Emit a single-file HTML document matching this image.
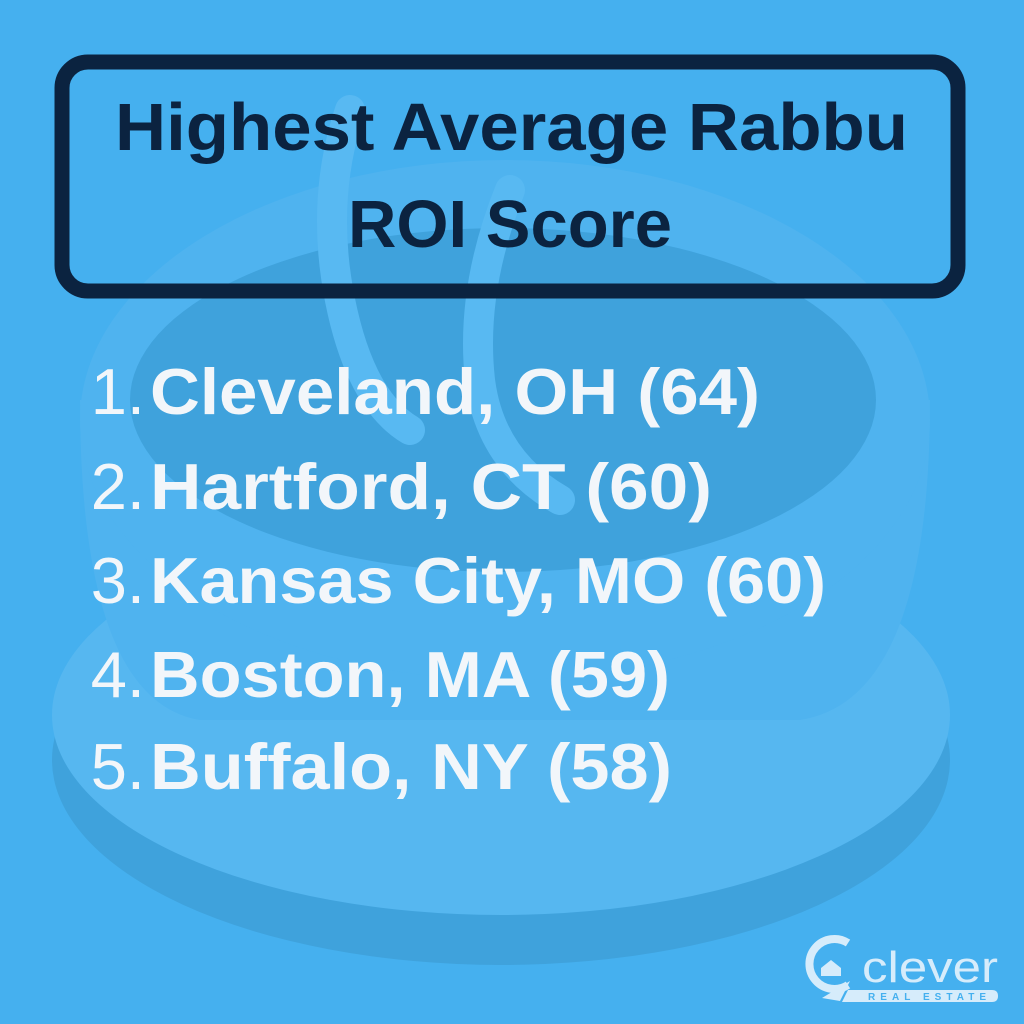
<!DOCTYPE html>
<html><head><meta charset="utf-8"><style>
html,body{margin:0;padding:0;background:#45b0ef;}
svg{display:block}
</style></head><body>
<svg width="1024" height="1024" viewBox="0 0 1024 1024" xmlns="http://www.w3.org/2000/svg">
<rect width="1024" height="1024" fill="#45b0ef"/>
<ellipse cx="501" cy="760" rx="449" ry="205" fill="#3fa2dc"/>
<ellipse cx="501" cy="715" rx="449" ry="200" fill="#56b7f0"/>
<path d="M80 400 Q80 700 200 720 L800 720 Q930 700 930 400 Z" fill="#4fb3ef"/>
<ellipse cx="505" cy="420" rx="425" ry="260" fill="#4fb3ef"/>
<ellipse cx="503" cy="400" rx="373" ry="172" fill="#3fa2dc"/>
<path d="M350 110 Q320 200 340 300 Q360 400 410 430" fill="none" stroke="#58b9f2" stroke-width="30" stroke-linecap="round"/>
<path d="M510 190 Q470 290 480 380 Q490 460 560 500" fill="none" stroke="#58b9f2" stroke-width="30" stroke-linecap="round"/>
<rect x="62" y="62" width="896" height="229" rx="26" fill="none" stroke="#0b2340" stroke-width="15"/>
<g font-family="Liberation Sans, sans-serif" font-weight="bold">
<text x="115" y="150" font-size="67" fill="#0b2340" textLength="793" lengthAdjust="spacingAndGlyphs">Highest Average Rabbu</text>
<text x="348" y="247" font-size="67" fill="#0b2340" textLength="324" lengthAdjust="spacingAndGlyphs">ROI Score</text>
<g fill="#f2f6fa" font-size="65">
<text x="145" y="414" text-anchor="end" font-weight="normal">1.</text>
<text x="150" y="414" textLength="610" lengthAdjust="spacingAndGlyphs">Cleveland, OH (64)</text>
<text x="145" y="509" text-anchor="end" font-weight="normal">2.</text>
<text x="150" y="509" textLength="562" lengthAdjust="spacingAndGlyphs">Hartford, CT (60)</text>
<text x="145" y="603" text-anchor="end" font-weight="normal">3.</text>
<text x="150" y="603" textLength="676" lengthAdjust="spacingAndGlyphs">Kansas City, MO (60)</text>
<text x="145" y="697" text-anchor="end" font-weight="normal">4.</text>
<text x="150" y="697" textLength="520" lengthAdjust="spacingAndGlyphs">Boston, MA (59)</text>
<text x="145" y="789" text-anchor="end" font-weight="normal">5.</text>
<text x="150" y="789" textLength="522" lengthAdjust="spacingAndGlyphs">Buffalo, NY (58)</text>
</g>
</g>
<g fill="#d6ecfb" stroke="none">
<path d="M848 943 A25 25 0 1 0 848 985" fill="none" stroke="#d6ecfb" stroke-width="8"/>
<path d="M822 998 L850 981 L840 1001 Z"/>
<path d="M821 968 L831 960 L841 968 L841 976 L821 976 Z"/>
<path d="M848 990 L992 990 Q998 990 998 996 Q998 1002 992 1002 L842 1002 Z"/>
</g>
<text x="862" y="982" font-family="Liberation Sans, sans-serif" font-size="44" fill="#d6ecfb" textLength="136" lengthAdjust="spacingAndGlyphs">clever</text>
<text x="868" y="1000" font-family="Liberation Sans, sans-serif" font-weight="bold" font-size="10" fill="#45b0ef" textLength="118" lengthAdjust="spacing">REAL ESTATE</text>
</svg>
</body></html>
